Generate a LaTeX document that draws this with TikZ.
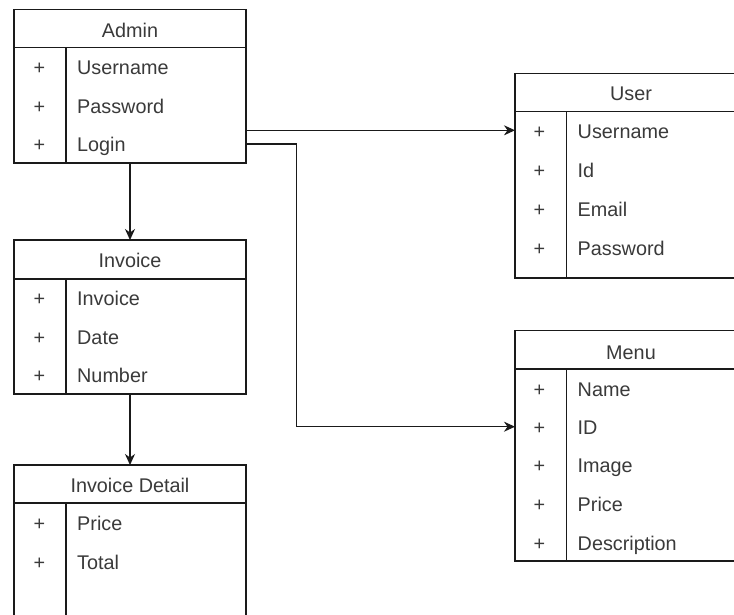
\documentclass[tikz,border=0pt]{standalone}
\usepackage{fontspec}
\setmainfont{Liberation Sans}
\usetikzlibrary{arrows.meta}
\definecolor{ink}{HTML}{1A1A1A}
\definecolor{txt}{HTML}{3A3A3A}
\begin{document}
\begin{tikzpicture}[x=1pt,y=-1pt,
  classbox/.style={draw=ink, line width=1.2pt, fill=white, anchor=north west,
    minimum width=232pt, inner sep=0pt, outer sep=0pt},
  part/.style={draw=ink, line width=1.2pt},
  lbl/.style={font=\fontsize{19.8}{23}\selectfont, text=txt, inner sep=0pt, anchor=base},
  attr/.style={lbl, anchor=base west},
  link/.style={draw=ink, line width=1.2pt, -{Stealth[length=11pt,width=10pt,inset=3.5pt]}},
]
\useasboundingbox (0,0) rectangle (734,614);
\clip (0,0) rectangle (734,614);

% ---- Admin ----
\node[classbox, minimum height=153.5pt] (admin) at (14,9.5) {};
\draw[part] (14,47.7) -- (246,47.7);
\draw[part] (66,47.7) -- (66,163);
\node[lbl] (admin-h) at (130,37.3) {Admin};
\foreach \t/\y [count=\i] in {Username/74, Password/113.3, Login/151.7} {
  \node[lbl] (admin-v\i) at (39.5,\y) {+};
  \node[attr] (admin-a\i) at (77,\y) {\t};
}

% ---- Invoice ----
\node[classbox, minimum height=154pt] (invoice) at (14,240) {};
\draw[part] (14,279) -- (246,279);
\draw[part] (66,279) -- (66,394);
\node[lbl] (invoice-h) at (130,267.7) {Invoice};
\foreach \t/\y [count=\i] in {Invoice/305.7, Date/344, Number/382.3} {
  \node[lbl] (invoice-v\i) at (39.5,\y) {+};
  \node[attr] (invoice-a\i) at (77,\y) {\t};
}

% ---- Invoice Detail ----
\node[classbox, minimum height=200pt] (detail) at (14,465) {};
\draw[part] (14,503) -- (246,503);
\draw[part] (66,503) -- (66,665);
\node[lbl] (detail-h) at (130,492.7) {Invoice Detail};
\foreach \t/\y [count=\i] in {Price/530.7, Total/569} {
  \node[lbl] (detail-v\i) at (39.5,\y) {+};
  \node[attr] (detail-a\i) at (77,\y) {\t};
}

% ---- User ----
\node[classbox, minimum height=204.7pt] (user) at (515,73.3) {};
\draw[part] (515,111.7) -- (747,111.7);
\draw[part] (566.7,111.7) -- (566.7,278);
\node[lbl] (user-h) at (631,100.7) {User};
\foreach \t/\y [count=\i] in {Username/138.3, Id/177.3, Email/216.7, Password/255} {
  \node[lbl] (user-v\i) at (539.5,\y) {+};
  \node[attr] (user-a\i) at (577.5,\y) {\t};
}

% ---- Menu ----
\node[classbox, minimum height=230.3pt] (menu) at (515,330.7) {};
\draw[part] (515,369) -- (747,369);
\draw[part] (566.7,369) -- (566.7,561);
\node[lbl] (menu-h) at (631,359) {Menu};
\foreach \t/\y [count=\i] in {Name/396, ID/434.3, Image/472.7, Price/511.7, Description/550.7} {
  \node[lbl] (menu-v\i) at (539.5,\y) {+};
  \node[attr] (menu-a\i) at (577.5,\y) {\t};
}

% ---- connectors ----
\draw[link] (admin.south) -- (invoice.north);
\draw[link] (invoice.south) -- (detail.north);
\coordinate (u-in) at (515,130.3);
\draw[link] (admin.east |- u-in) -- (user.west |- u-in);
\coordinate (m-bend) at (296.7,144);
\coordinate (m-in) at (515,426.7);
\draw[link] (admin.east |- m-bend) -- (m-bend) -- (m-bend |- m-in) -- (menu.west |- m-in);
\end{tikzpicture}
\end{document}
